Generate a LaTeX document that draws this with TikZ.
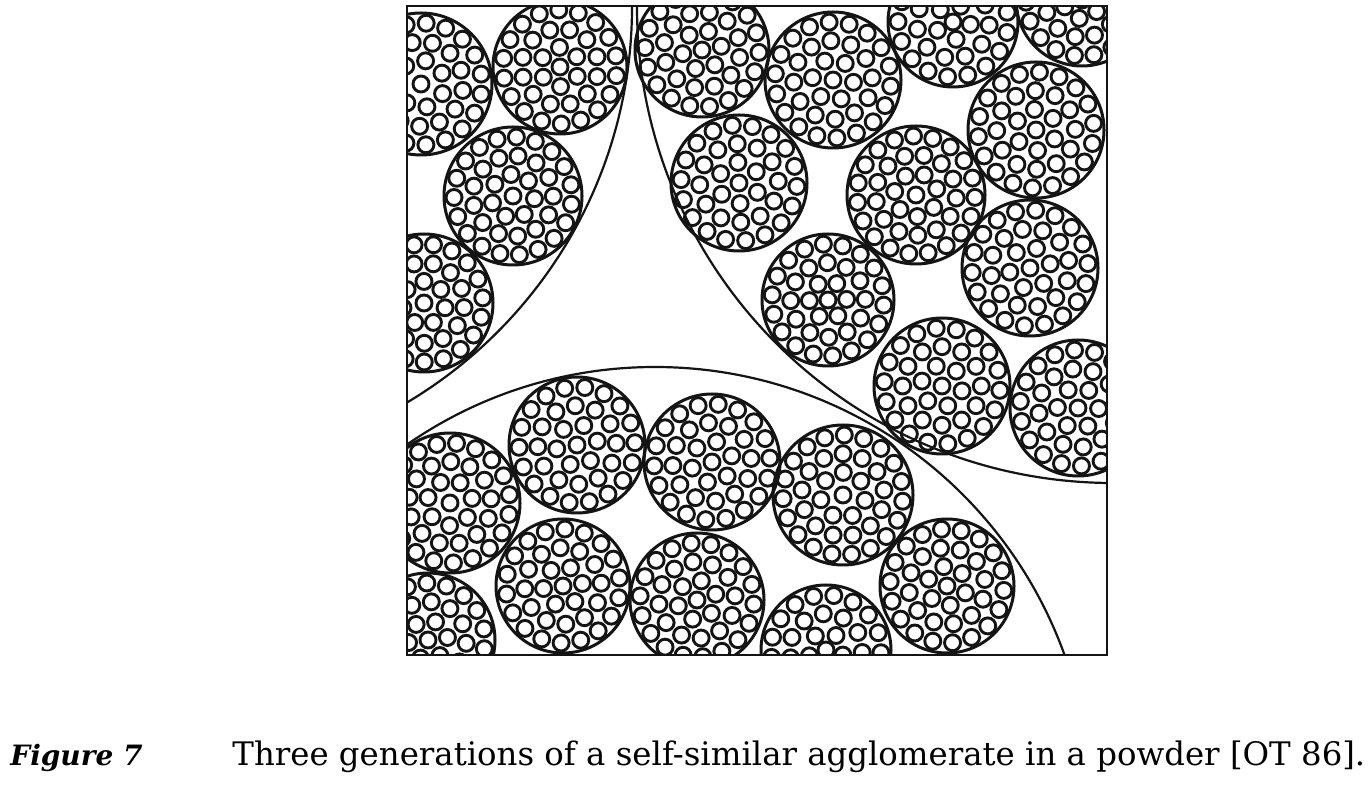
\documentclass[tikz,border=0pt]{standalone}
\usepackage{tikz}
\usepackage{fontspec}
\setmainfont{DejaVu Serif}
\definecolor{inkBlack}{HTML}{141414}
\tikzset{
  frameline/.style={draw=inkBlack, line width=1.3pt},
  bigarc/.style={draw=inkBlack, line width=1.1pt},
  clusterline/.style={draw=inkBlack, line width=1.5pt},
  grain/.style={draw=inkBlack, line width=1.45pt},
}
% one agglomerate: outline plus rings of grains
\newcommand{\cluster}[3]{%
  \draw[clusterline] (#1,#2) circle (#3);
  \foreach \ringk in {0,1,2} {%
    \pgfmathsetmacro{\ringr}{#3-10-18.7*\ringk}
    \pgfmathtruncatemacro{\ringn}{2*pi*\ringr/19.2}
    \pgfmathsetmacro{\ringph}{360*rnd}
    \foreach \beadm in {1,...,\ringn}
      \draw[grain, shift={(#1,#2)}] (\ringph+360*\beadm/\ringn:\ringr) circle (8);
  }
  \draw[grain] (#1,#2) circle (8);
}

\begin{document}
\begin{tikzpicture}[x=0.5pt, y=-0.5pt]
  \useasboundingbox (0,0) rectangle (1371,785);
  \pgfmathsetseed{11}

  \begin{scope}
    \clip (407,6) rectangle (1107,655);
    % first generation
    \draw[bigarc] (172,7) circle (460);
    \draw[bigarc] (1113,7) circle (476);
    \draw[bigarc] (655,802) circle (435);
    % second and third generation
    \foreach \cx/\cy/\cr in {421/84/71, 560/67/67, 513/196/69, 424/303/69,
        702/50/67, 739/183/68, 833/80/68, 953/22/65, 1082/0/66, 1036/130/68,
        916/195/69, 1030/268/68, 828/300/66, 942/386/68, 1078/408/68,
        577/445/68, 712/462/68, 450/503/70, 843/495/70, 947/586/67,
        826/650/65, 563/586/67, 697/600/67, 428/640/67}
      \cluster{\cx}{\cy}{\cr};
  \end{scope}
  \draw[frameline] (407,6) rectangle (1107,655);

  % legende
  \node[anchor=base west, inner sep=0pt, font=\fontsize{14}{17}\selectfont\bfseries\itshape]
    (figlabel) at (10,765) {Figure 7};
  \node[anchor=base west, inner sep=0pt, font=\fontsize{16.2}{19}\selectfont]
    (caption) at (232,765) {Three generations of a self-similar agglomerate in a powder [OT 86].};
\end{tikzpicture}
\end{document}
